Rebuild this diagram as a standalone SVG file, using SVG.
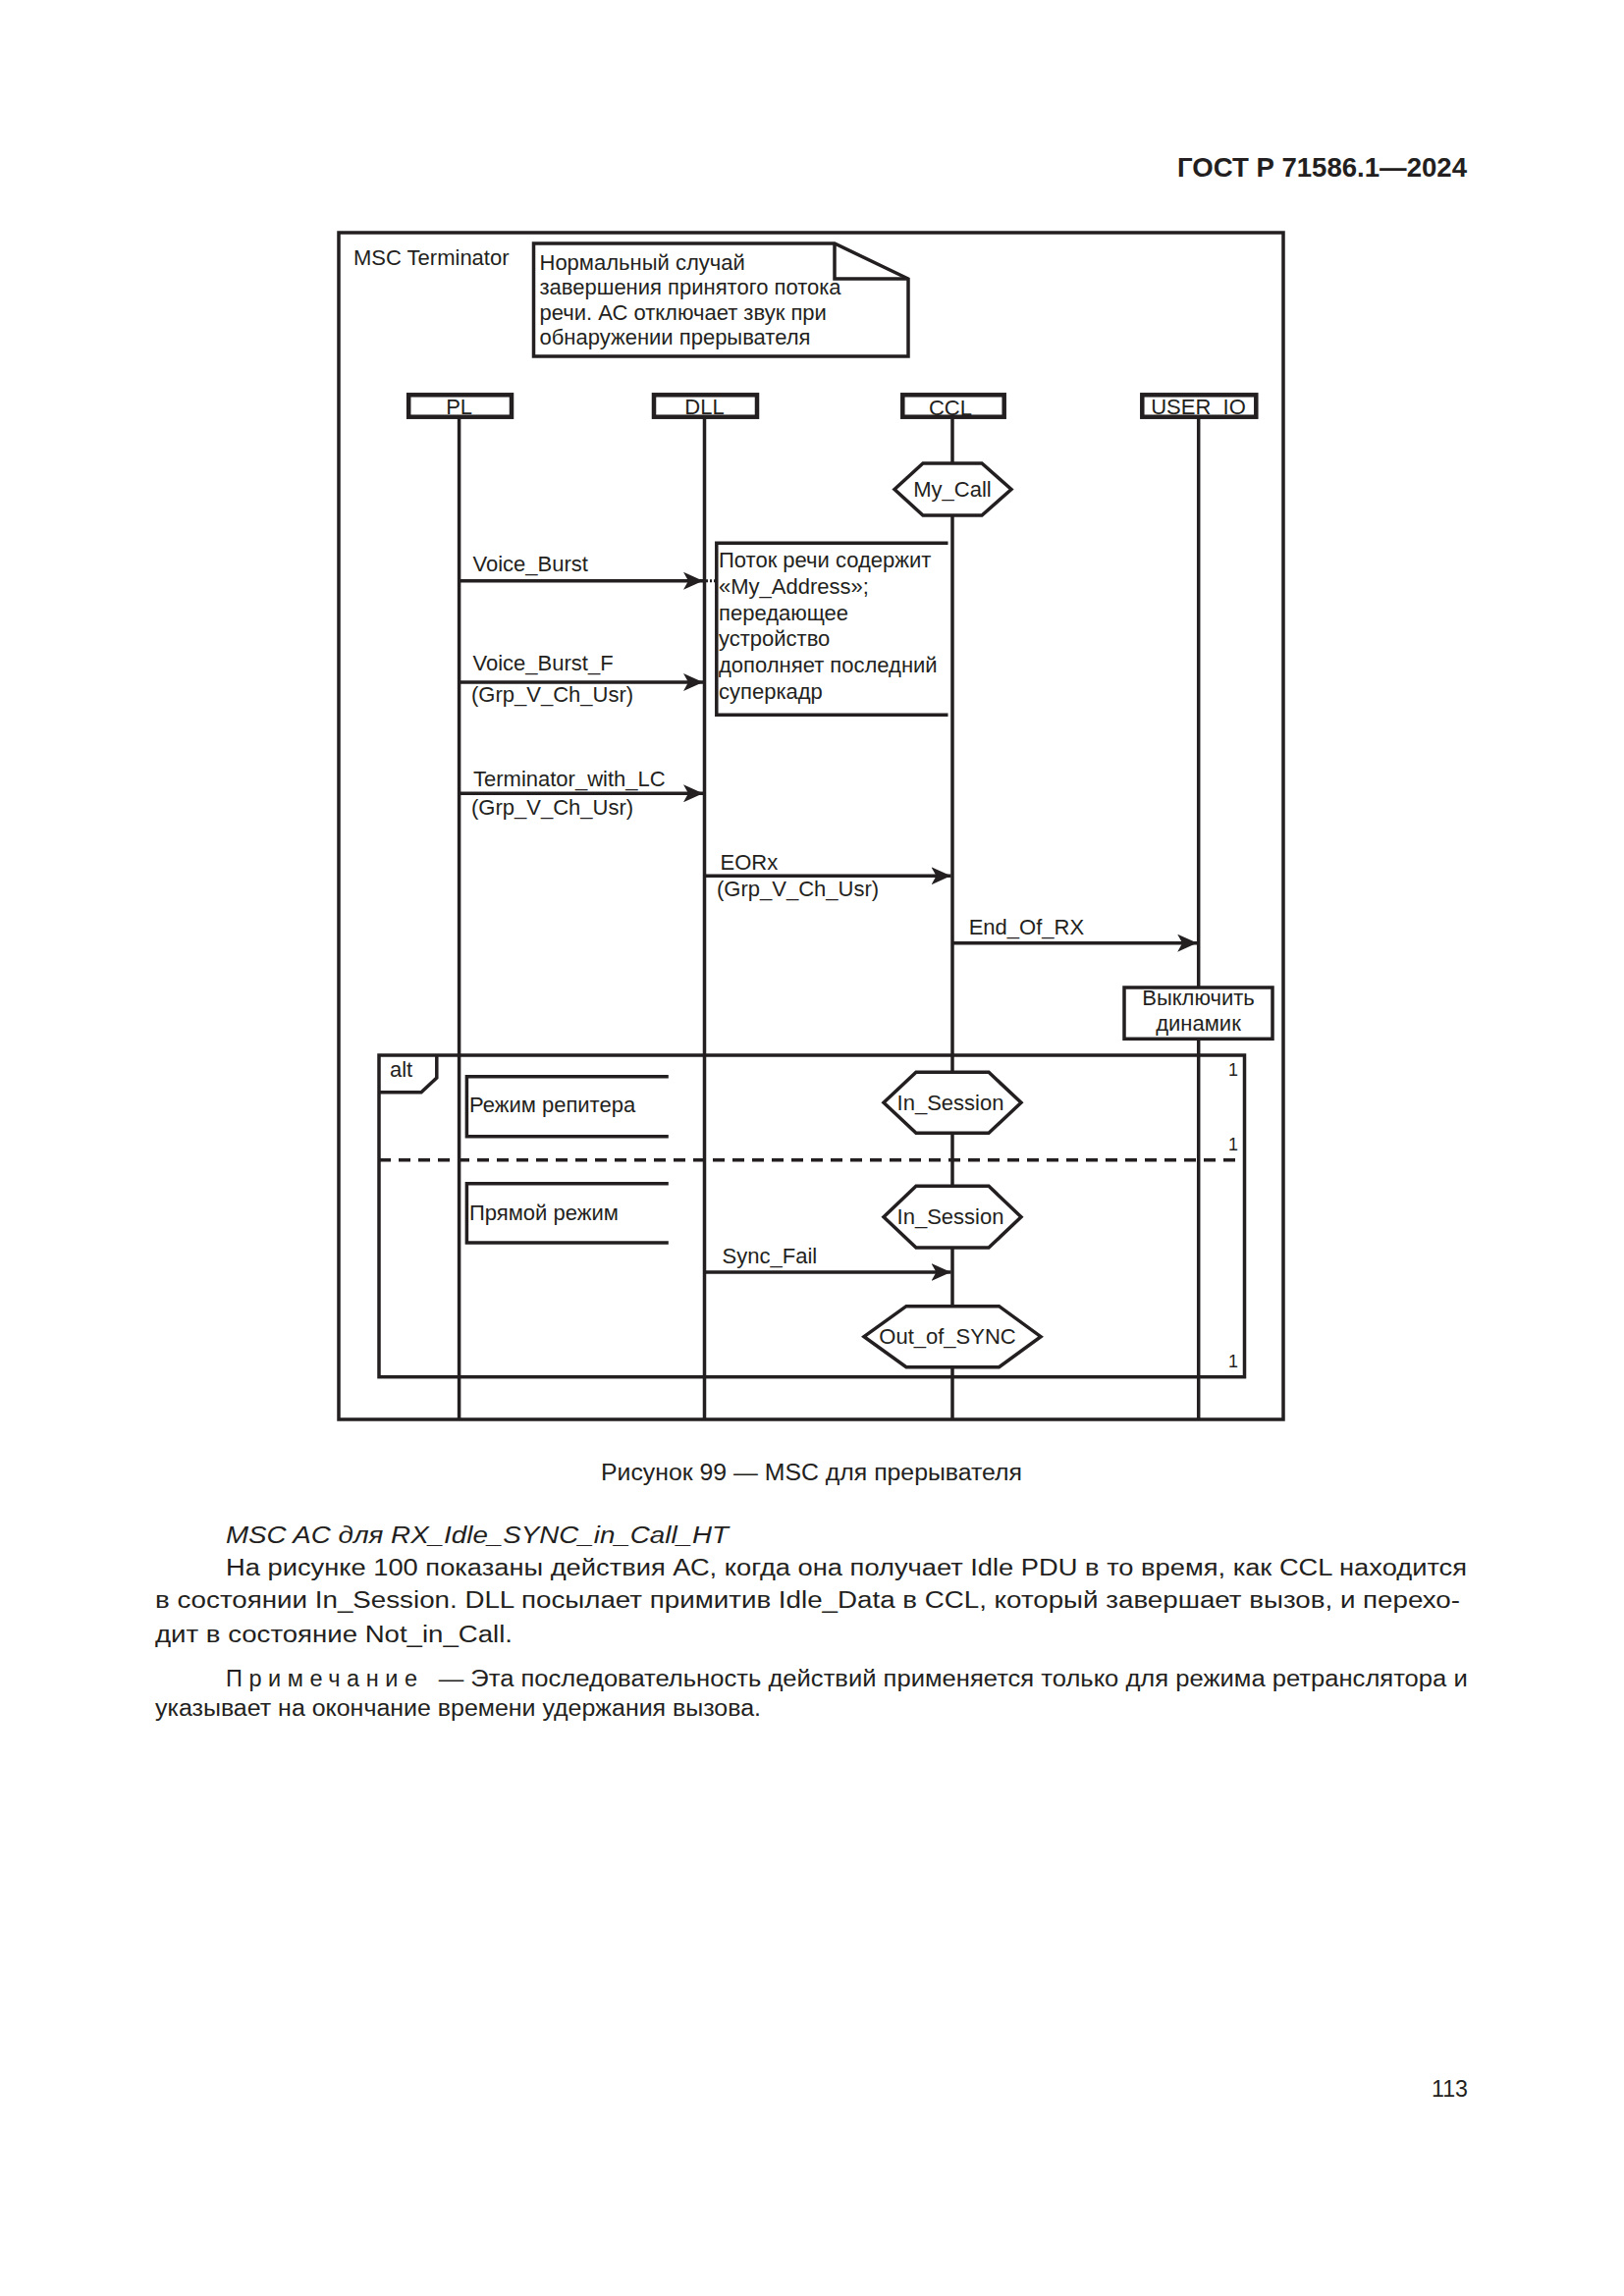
<svg xmlns="http://www.w3.org/2000/svg" width="1654" height="2339" viewBox="0 0 1654 2339">
<defs>
<style>
text{font-family:"Liberation Sans",Arial,sans-serif;fill:#231f20}
.t{font-size:22px}
.b{font-size:23.5px}
.mid{text-anchor:middle}
.ln{stroke:#231f20;stroke-width:3.5;fill:none}
.box{stroke:#231f20;stroke-width:3.5;fill:#fff}
.head{stroke:#231f20;stroke-width:4.5;fill:#fff}
.msg{stroke:#231f20;stroke-width:3.5;fill:none;marker-end:url(#ah)}
</style>
<marker id="ah" markerUnits="userSpaceOnUse" viewBox="0 0 20 18" refX="20" refY="9" markerWidth="20" markerHeight="18" orient="auto">
<path d="M0,0 L20,9 L0,18 L5,9 Z" fill="#231f20"/>
</marker>
</defs>
<rect width="1654" height="2339" fill="#fff"/>

<text x="1494" y="180" font-size="28" font-weight="bold" text-anchor="end" textLength="295" lengthAdjust="spacingAndGlyphs">ГОСТ Р 71586.1—2024</text>

<g id="frame">
<rect x="345" y="237" width="962" height="1209" class="ln"/>
<text x="360" y="270" class="t">MSC Terminator</text>
</g>

<g id="note">
<path d="M543.5,248 H850 L925,284 V363 H543.5 Z" class="box"/>
<path d="M850,248 V284 H925" class="ln"/>
<text x="549.5" y="274.5" class="t">Нормальный случай</text>
<text x="549.5" y="300" class="t">завершения принятого потока</text>
<text x="549.5" y="325.5" class="t">речи. АС отключает звук при</text>
<text x="549.5" y="351" class="t">обнаружении прерывателя</text>
</g>

<g id="lifelines">
<line x1="467.6" y1="425" x2="467.6" y2="1446" class="ln"/>
<line x1="717.5" y1="425" x2="717.5" y2="1446" class="ln"/>
<line x1="970" y1="425" x2="970" y2="1446" class="ln"/>
<line x1="1220.7" y1="425" x2="1220.7" y2="1446" class="ln"/>
</g>

<g id="PL">
<rect x="416.2" y="402.3" width="104.8" height="22.4" class="head"/>
<text x="467.6" y="422" class="t mid">PL</text>
</g>
<g id="DLL">
<rect x="666" y="402.3" width="105" height="22.4" class="head"/>
<text x="717.5" y="422" class="t mid">DLL</text>
</g>
<g id="CCL">
<rect x="919.3" y="402.3" width="103.4" height="22.4" class="head"/>
<text x="968" y="423" class="t mid">CCL</text>
</g>
<g id="USER_IO">
<rect x="1163.3" y="402.3" width="116" height="22.4" class="head"/>
<text x="1220.5" y="422" class="t mid">USER_IO</text>
</g>

<g id="state_my_call">
<path d="M911,498.5 L940,472 H1000 L1030,498.5 L1000,525 H940 Z" class="box"/>
<text x="970" y="506" class="t mid">My_Call</text>
</g>

<g id="comment">
<path d="M965.5,553.3 H729.8 V728.3 H965.5" class="ln"/>
<text x="732" y="578.3" class="t">Поток речи содержит</text>
<text x="732" y="605" class="t">«My_Address»;</text>
<text x="732" y="631.7" class="t">передающее</text>
<text x="732" y="658.3" class="t">устройство</text>
<text x="732" y="685" class="t">дополняет последний</text>
<text x="732" y="711.7" class="t">суперкадр</text>
</g>

<g id="action">
<rect x="1145" y="1006" width="151" height="52.3" class="box"/>
<text x="1220.5" y="1024" class="t mid">Выключить</text>
<text x="1220.5" y="1050" class="t mid">динамик</text>
</g>

<g id="alt">
<rect x="386" y="1075" width="881.5" height="327.7" class="ln"/>
<path d="M386,1112.7 H429 L444.8,1098 V1075" class="ln"/>
<text x="397" y="1096.7" class="t">alt</text>
<line x1="386" y1="1181.7" x2="1267.5" y2="1181.7" class="ln" stroke-width="3" stroke-dasharray="12,8"/>
<text x="1261" y="1096" font-size="18" text-anchor="end">1</text>
<text x="1261" y="1171.7" font-size="18" text-anchor="end">1</text>
<text x="1261" y="1393.3" font-size="18" text-anchor="end">1</text>
</g>

<g id="guard_repeater">
<path d="M680.8,1096.7 H475.4 V1157.7 H680.8" class="ln"/>
<text x="478" y="1132.7" class="t">Режим репитера</text>
</g>
<g id="guard_direct">
<path d="M680.8,1205.7 H475.4 V1266 H680.8" class="ln"/>
<text x="478" y="1243.3" class="t">Прямой режим</text>
</g>

<g id="state_in_session_1">
<path d="M900,1123.3 L933,1092.3 H1007 L1040,1123.3 L1007,1154.3 H933 Z" class="box"/>
<text x="968" y="1131" class="t mid">In_Session</text>
</g>
<g id="state_in_session_2">
<path d="M900,1239.7 L933,1208.3 H1007 L1040,1239.7 L1007,1271 H933 Z" class="box"/>
<text x="968" y="1247" class="t mid">In_Session</text>
</g>
<g id="state_out_of_sync">
<path d="M880,1361.7 L923,1330.7 H1017.5 L1060,1361.7 L1017.5,1392.7 H923 Z" class="box"/>
<text x="965" y="1369" class="t mid">Out_of_SYNC</text>
</g>

<g id="connectors">
<line x1="467.6" y1="591.7" x2="716" y2="591.7" class="msg"/>
<line x1="719" y1="591.7" x2="730" y2="591.7" stroke="#231f20" stroke-width="3" stroke-dasharray="2,2"/>
<text x="481.5" y="581.7" class="t">Voice_Burst</text>

<line x1="467.6" y1="695" x2="716" y2="695" class="msg"/>
<text x="481.5" y="683.3" class="t">Voice_Burst_F</text>
<text x="480" y="715" class="t">(Grp_V_Ch_Usr)</text>

<line x1="467.6" y1="808.3" x2="716" y2="808.3" class="msg"/>
<text x="482" y="801" class="t">Terminator_with_LC</text>
<text x="480" y="829.5" class="t">(Grp_V_Ch_Usr)</text>

<line x1="717.5" y1="892.3" x2="968.5" y2="892.3" class="msg"/>
<text x="733.5" y="886" class="t">EORx</text>
<text x="730" y="913" class="t">(Grp_V_Ch_Usr)</text>

<line x1="970" y1="960.7" x2="1219.2" y2="960.7" class="msg"/>
<text x="986.7" y="951.7" class="t">End_Of_RX</text>

<line x1="717.5" y1="1296" x2="968.5" y2="1296" class="msg"/>
<text x="735.6" y="1286.7" class="t">Sync_Fail</text>
</g>

<g id="page_text">
<text x="612" y="1508.3" class="b" textLength="429" lengthAdjust="spacingAndGlyphs">Рисунок 99 — MSC для прерывателя</text>
<text x="230" y="1571.7" class="b" font-style="italic" textLength="512" lengthAdjust="spacingAndGlyphs">MSC AC для RX_Idle_SYNC_in_Call_HT</text>
<text x="230" y="1605" class="b" textLength="1264" lengthAdjust="spacingAndGlyphs">На рисунке 100 показаны действия АС, когда она получает Idle PDU в то время, как CCL находится</text>
<text x="158" y="1638.3" class="b" textLength="1329" lengthAdjust="spacingAndGlyphs">в состоянии In_Session. DLL посылает примитив Idle_Data в CCL, который завершает вызов, и перехо-</text>
<text x="158" y="1672.7" class="b" textLength="364" lengthAdjust="spacingAndGlyphs">дит в состояние Not_in_Call.</text>
<text x="230" y="1718.3" class="b" textLength="195" lengthAdjust="spacing">Примечание</text>
<text x="446.7" y="1718.3" class="b" textLength="1048" lengthAdjust="spacingAndGlyphs">— Эта последовательность действий применяется только для режима ретранслятора и</text>
<text x="158" y="1748.3" class="b" textLength="617" lengthAdjust="spacingAndGlyphs">указывает на окончание времени удержания вызова.</text>
<text x="1458" y="2136" font-size="23" textLength="37" lengthAdjust="spacingAndGlyphs">113</text>
</g>
</svg>
